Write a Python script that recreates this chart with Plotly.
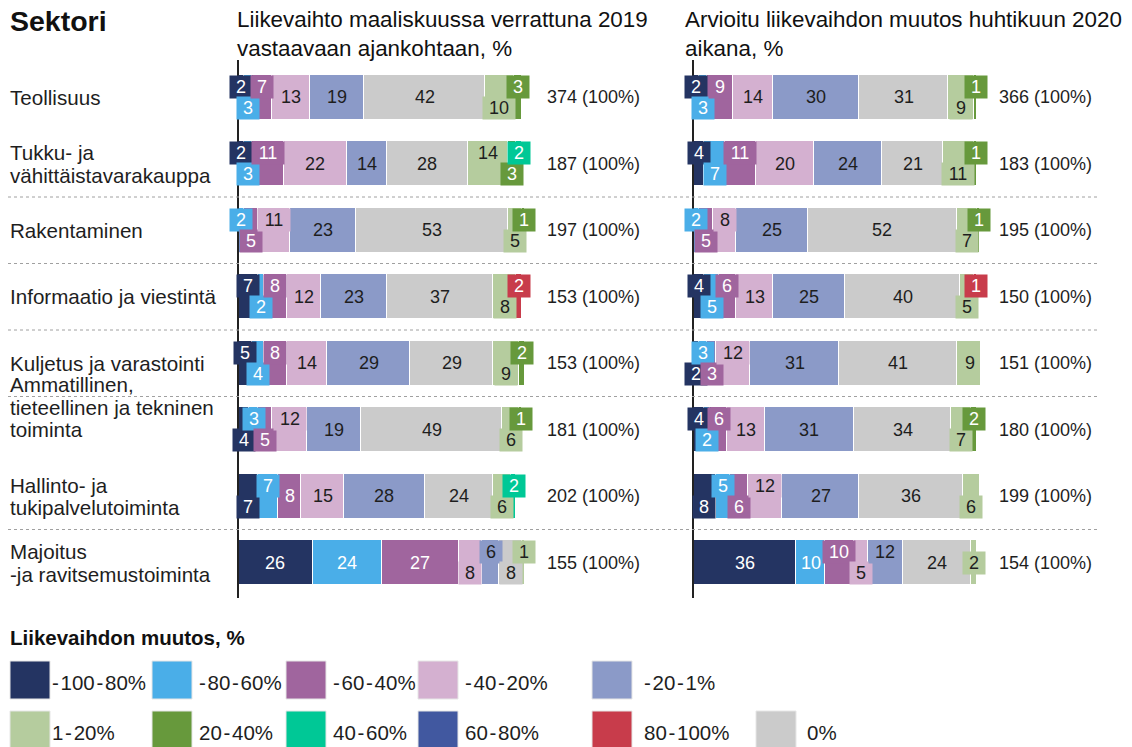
import plotly.graph_objects as go

W, H = 1132, 747
OFF = 8                      # page margin the browser puts round the figure
FW, FH = W - OFF, H - OFF
FONT = "Liberation Sans, Arial, sans-serif"
DARK = "#1e1e1e"

# ---------------------------------------------------------------- data
sectors = [
    "Teollisuus",
    "Tukku- ja<br>vähittäistavarakauppa",
    "Rakentaminen",
    "Informaatio ja viestintä",
    "Kuljetus ja varastointi",
    "Ammatillinen,<br>tieteellinen ja tekninen<br>toiminta",
    "Hallinto- ja<br>tukipalvelutoiminta",
    "Majoitus<br>-ja ravitsemustoiminta",
]

classes = ["-100-80%", "-80-60%", "-60-40%", "-40-20%", "-20-1%", "0%",
           "1-20%", "20-40%", "40-60%", "60-80%", "80-100%"]

# March 2020 compared with March 2019, % of firms
march_m100_80 = [2, 2, 0, 7, 5, 4, 7, 26]
march_m80_60 = [3, 3, 2, 2, 4, 3, 7, 24]
march_m60_40 = [7, 11, 5, 8, 8, 5, 8, 27]
march_m40_20 = [13, 22, 11, 12, 14, 12, 15, 8]
march_m20_1 = [19, 14, 23, 23, 29, 19, 28, 6]
march_0 = [42, 28, 53, 37, 29, 49, 24, 8]
march_1_20 = [10, 14, 5, 8, 9, 6, 6, 1]
march_20_40 = [3, 3, 1, 0, 2, 1, 0, 0]
march_40_60 = [0, 2, 0, 0, 0, 0, 2, 0]
march_60_80 = [0, 0, 0, 0, 0, 0, 0, 0]
march_80_100 = [0, 0, 0, 2, 0, 0, 0, 0]
march_n = [374, 187, 197, 153, 153, 181, 202, 155]

# estimated change during April 2020, % of firms
april_m100_80 = [2, 4, 0, 4, 2, 4, 8, 36]
april_m80_60 = [3, 7, 2, 5, 3, 2, 5, 10]
april_m60_40 = [9, 11, 5, 6, 3, 6, 6, 10]
april_m40_20 = [14, 20, 8, 13, 12, 13, 12, 5]
april_m20_1 = [30, 24, 25, 25, 31, 31, 27, 12]
april_0 = [31, 21, 52, 40, 41, 34, 36, 24]
april_1_20 = [9, 11, 7, 5, 9, 7, 6, 2]
april_20_40 = [1, 1, 1, 0, 0, 2, 2, 0]
april_40_60 = [0, 0, 0, 0, 0, 0, 0, 0]
april_60_80 = [0, 0, 0, 0, 0, 0, 0, 0]
april_80_100 = [0, 0, 0, 1, 0, 0, 0, 0]
april_n = [366, 183, 195, 150, 151, 180, 199, 154]

march = [march_m100_80, march_m80_60, march_m60_40, march_m40_20, march_m20_1,
         march_0, march_1_20, march_20_40, march_40_60, march_60_80, march_80_100]
april = [april_m100_80, april_m80_60, april_m60_40, april_m40_20, april_m20_1,
         april_0, april_1_20, april_20_40, april_40_60, april_60_80, april_80_100]

# ---------------------------------------------------------------- styling
colors = ["#243462", "#4aaee8", "#a0659e", "#d4b0d0", "#8b9ac8", "#cbcbcb",
          "#b5cc9e", "#67993c", "#00c896", "#4158a0", "#c83c4b"]
white_text = {0, 1, 2, 7, 8, 9, 10}

# where each segment's value sits: t = top edge, b = bottom edge, c = centre
march_pos = ["tbtcccbt...", "tbtccctbt..", ".tbtccbt...", "tbtcccb...t",
             "tbtcccbt...", "btbtccbt...", "btccccb.t..", "cccbtbt...."]
april_pos = ["tbtcccbt...", "tbtcccbt...", ".tbtccbt...", "tbtcccb...t",
             "btbtccc....", "tbtcccbt...", "btbtccbt...", "cctbtcc...."]

TOP, ROW = 64.0, 66.5          # px: top of first row band, row pitch
BAR_W = 0.68                   # bar thickness in row units


def px(x):
    return (x - OFF) / FW


def py(y):
    return 1 - (y - OFF) / FH


fig = go.Figure()
annotations = []
shapes = []

panels = [("x", march, march_pos, march_n, 238, 545),
          ("x2", april, april_pos, april_n, 693, 997)]

for xa, vals, pos, totals, axis_px, total_px in panels:
    for k, cls in enumerate(classes):
        fig.add_trace(go.Bar(
            y=list(range(len(sectors))),
            x=[v if v else None for v in vals[k]],
            orientation="h", width=BAR_W,
            marker=dict(color=colors[k], line=dict(color="white", width=1.5)),
            xaxis=xa, yaxis="y", name=cls, showlegend=False,
            hovertemplate=cls + ": %{x}%<extra></extra>",
        ))

    # value labels
    for i in range(len(sectors)):
        left = 0
        for k in range(len(classes)):
            v = vals[k][i]
            if not v:
                continue
            mid = left + v / 2
            left += v
            p = pos[i][k]
            fc = "white" if k in white_text else DARK
            a = dict(x=mid, xref=xa, yref="y", text=str(v), showarrow=False,
                     font=dict(family=FONT, size=18, color=fc))
            if p == "t":
                a.update(y=i - BAR_W / 2, yanchor="top")
            elif p == "b":
                a.update(y=i + BAR_W / 2, yanchor="bottom")
            else:
                a.update(y=i, yanchor="middle")
            if p in "tb" or v < 3:
                a.update(bgcolor=colors[k], width=12 + 10 * len(str(v)),
                         height=22, borderpad=0)
            annotations.append(a)

        annotations.append(dict(
            x=px(total_px), xref="paper", y=i, yref="y", xanchor="left",
            text=f"{totals[i]} (100%)", showarrow=False,
            font=dict(family=FONT, size=18, color=DARK)))

    # vertical zero line
    shapes.append(dict(type="line", xref="paper", yref="paper",
                       x0=px(axis_px), x1=px(axis_px), y0=py(60), y1=py(598),
                       line=dict(color="#222222", width=2)))

# dotted separators between groups of rows
for b in [1, 2, 3, 4, 6]:
    y = TOP + (b + 1) * ROW
    shapes.append(dict(type="line", xref="paper", yref="paper",
                       x0=px(8), x1=px(1100), y0=py(y), y1=py(y),
                       line=dict(color="#a0a0a0", width=1, dash="dot")))

# row labels, one annotation per line
LH = 22.5
for i, s in enumerate(sectors):
    lines = s.split("<br>")
    centre = TOP + (i + 0.5) * ROW
    first = centre - (len(lines) - 1) * LH / 2
    if len(lines) > 2:          # the three-line label sits one line higher
        first -= LH
    for j, ln in enumerate(lines):
        annotations.append(dict(
            x=px(8), y=py(first + j * LH), xref="paper", yref="paper",
            xanchor="left", yanchor="middle", text=ln, showarrow=False,
            font=dict(family=FONT, size=20.6, color=DARK)))

# header
annotations.append(dict(x=px(8), y=py(21), xref="paper", yref="paper",
                        xanchor="left", yanchor="middle", text="<b>Sektori</b>",
                        showarrow=False, font=dict(family=FONT, size=28.5, color="#111")))
titles = [(235, ["Liikevaihto maaliskuussa verrattuna 2019", "vastaavaan ajankohtaan, %"]),
          (683, ["Arvioitu liikevaihdon muutos huhtikuun 2020", "aikana, %"])]
for x0, lines in titles:
    for j, ln in enumerate(lines):
        annotations.append(dict(
            x=px(x0), y=py(20 + j * 29), xref="paper", yref="paper",
            xanchor="left", yanchor="middle", text=ln, showarrow=False,
            font=dict(family=FONT, size=22.4, color="#111")))

# legend
annotations.append(dict(x=px(8), y=py(637), xref="paper", yref="paper",
                        xanchor="left", yanchor="middle",
                        text="<b>Liikevaihdon muutos, %</b>", showarrow=False,
                        font=dict(family=FONT, size=20.5, color="#111")))
legend_rows = [
    (661, [(0, 10, 52), (1, 152, 199), (2, 286, 333), (3, 418, 465), (4, 592, 644)]),
    (711, [(6, 10, 52), (7, 152, 199), (8, 286, 333), (9, 418, 465), (10, 592, 644),
           (5, 756, 807)]),
]
for y0, items in legend_rows:
    for k, sx, tx in items:
        shapes.append(dict(type="rect", xref="paper", yref="paper",
                           x0=px(sx), x1=px(sx + 40), y0=py(y0), y1=py(y0 + 38),
                           fillcolor=colors[k], line=dict(color="#e6e6e6", width=1)))
        label = classes[k].replace("-", "\u200a-\u200a").strip()
        annotations.append(dict(
            x=px(tx - 2), y=py(y0 + 21), xref="paper", yref="paper",
            xanchor="left", yanchor="middle", text=label, showarrow=False,
            font=dict(family=FONT, size=20.5, color=DARK)))

fig.update_layout(
    width=FW, height=FH,
    margin=dict(l=0, r=0, t=0, b=0),
    paper_bgcolor="white", plot_bgcolor="white",
    barmode="stack", bargap=0,
    xaxis=dict(domain=[px(238), px(525)], range=[0, 100], visible=False, fixedrange=True),
    xaxis2=dict(domain=[px(693), px(980)], range=[0, 100], visible=False,
                anchor="y", fixedrange=True),
    yaxis=dict(domain=[py(TOP + 8 * ROW), py(TOP)], range=[7.5, -0.5],
               visible=False, fixedrange=True),
    annotations=annotations,
    shapes=shapes,
)

fig.write_html("out.html")
